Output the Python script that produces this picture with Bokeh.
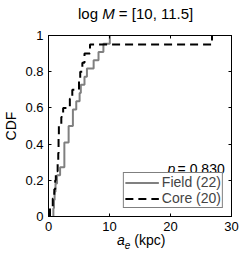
import numpy as np
from bokeh.plotting import figure
from bokeh.layouts import column
from bokeh.models import (Range1d, LinearAxis, Label, Legend, LegendItem,
                          FixedTicker, CustomLabelingPolicy, Div)
from bokeh.embed import file_html
from bokeh.resources import INLINE

# ---- data ----
field_ae = [0.8, 0.9, 1.0, 1.15, 1.4, 1.9, 2.6, 2.6, 2.6, 3.3, 3.3, 4.0, 4.0,
            4.55, 5.1, 5.3, 5.9, 6.3, 7.4, 8.2, 9.0, 10.05]
core_ae = [0.25, 0.7, 0.95, 1.1, 1.2, 1.5, 1.6, 1.65, 1.65, 1.7, 2.1, 2.4, 3.5,
           3.9, 5.0, 5.2, 5.55, 5.9, 6.8, 26.8]
x_ticks = [0, 10, 20, 30]
y_ticks = [0, 0.2, 0.4, 0.6, 0.8, 1]
y_tick_labels = {0: "0", 0.2: "0.2", 0.4: "0.4", 0.6: "0.6", 0.8: "0.8", 1: "1"}
p_value = "0.830"
labels = ["Field (22)", "Core (20)"]

FONT = "Liberation Sans"
PAGE_W, PAGE_H = 249, 255
TITLE_H, XLAB_H = 24, 19
W, H = PAGE_W, PAGE_H - TITLE_H - XLAB_H
ML, MR, MT, MB = 48, 12, 5, 20
FW, FH = W - ML - MR, H - MT - MB
X0, X1, Y0, Y1 = 0, 30, 0, 1

def px2x(px):  # px measured from frame left
    return X0 + px / FW * (X1 - X0)

def px2y(px):  # px measured from frame bottom (up positive)
    return Y0 + px / FH * (Y1 - Y0)

def ecdf(vals):
    v = np.sort(np.asarray(vals, dtype=float))
    n = len(v)
    xs = np.concatenate([[v[0]], v])
    ys = np.concatenate([[0.0], np.arange(1, n + 1) / n])
    return xs, ys

p = figure(width=W, height=H, output_backend="svg", toolbar_location=None,
           x_range=Range1d(X0, X1), y_range=Range1d(Y0, Y1),
           min_border_left=ML, min_border_right=MR, min_border_top=MT,
           min_border_bottom=MB, margin=0)
p.background_fill_color = "white"
p.border_fill_color = "white"
p.outline_line_color = "black"
p.outline_line_width = 1
p.grid.visible = False

for ax in (p.xaxis[0], p.yaxis[0]):
    ax.major_tick_in = 3
    ax.major_tick_out = 0
    ax.minor_tick_in = 0
    ax.minor_tick_out = 0
    ax.axis_line_color = "black"
    ax.major_tick_line_color = "black"
    ax.major_label_text_font = FONT
    ax.major_label_text_font_size = "13px"
    ax.major_label_text_color = "black"
    ax.major_label_standoff = 5
p.xaxis[0].ticker = FixedTicker(ticks=x_ticks)
p.yaxis[0].ticker = FixedTicker(ticks=y_ticks)
p.yaxis[0].major_label_overrides = y_tick_labels
p.yaxis[0].axis_label = "CDF"
p.yaxis[0].axis_label_text_font = FONT
p.yaxis[0].axis_label_text_font_size = "14px"
p.yaxis[0].axis_label_text_font_style = "normal"
p.yaxis[0].axis_label_text_color = "black"
p.yaxis[0].axis_label_standoff = 3

no_labels = CustomLabelingPolicy(
    code="for (const i of Array.from(indices)) indices.unset(i); return indices")

# mirror ticks on top and right (no labels)
for loc, ticks in (("right", y_ticks), ("above", x_ticks)):
    ax = LinearAxis(ticker=FixedTicker(ticks=ticks))
    ax.major_tick_in = 3
    ax.major_tick_out = 0
    ax.minor_tick_in = 0
    ax.minor_tick_out = 0
    ax.axis_line_color = "black"
    ax.major_label_policy = no_labels
    ax.major_label_standoff = 0
    p.add_layout(ax, loc)

fx, fy = ecdf(field_ae)
cx, cy = ecdf(core_ae)
r_field = p.step(fx, fy, mode="after", line_color="#808080", line_width=2)
r_core = p.step(cx, cy, mode="after", line_color="black", line_width=2,
                line_dash="8 5")

leg = Legend(items=[LegendItem(label=labels[0], renderers=[r_field]),
                    LegendItem(label=labels[1], renderers=[r_core])],
             location="bottom_right")
leg.border_line_color = "black"
leg.border_line_width = 1
leg.background_fill_alpha = 1
leg.label_text_font = FONT
leg.label_text_font_size = "14px"
leg.glyph_width = 34
leg.glyph_height = 15
leg.label_height = 15
leg.label_standoff = 3
leg.padding = 1
leg.spacing = 0
leg.margin = 8
p.add_layout(leg, "center")

# p value (inside the frame)
pyv = px2y(49)
p.add_layout(Label(x=px2x(182), y=pyv, text="= " + p_value, text_font=FONT,
                   text_font_size="14px", text_align="right",
                   text_baseline="alphabetic", text_color="black"))
p.add_layout(Label(x=px2x(131), y=pyv, text="p", text_font=FONT,
                   text_font_size="14px", text_font_style="italic",
                   text_align="right", text_baseline="alphabetic",
                   text_color="black"))

title_div = Div(
    text='<span style="position:relative; top:2px">log <i>M</i> = [10, 11.5]</span>',
    width=PAGE_W - 78, height=TITLE_H, margin=(0, 0, 0, 78),
    styles={"font-family": FONT, "font-size": "15px", "line-height": f"{TITLE_H}px",
            "color": "black", "white-space": "nowrap"})

xlab_div = Div(
    text='<i>a</i><span style="font-size:10px; position:relative; top:4px"><i>e</i></span> (kpc)',
    width=PAGE_W - 117, height=XLAB_H, margin=(0, 0, 0, 117),
    styles={"font-family": FONT, "font-size": "14px", "line-height": "8px",
            "color": "black", "white-space": "nowrap"})

layout = column(title_div, p, xlab_div, spacing=0, margin=0)

open("out.html", "w").write(file_html(layout, INLINE))
